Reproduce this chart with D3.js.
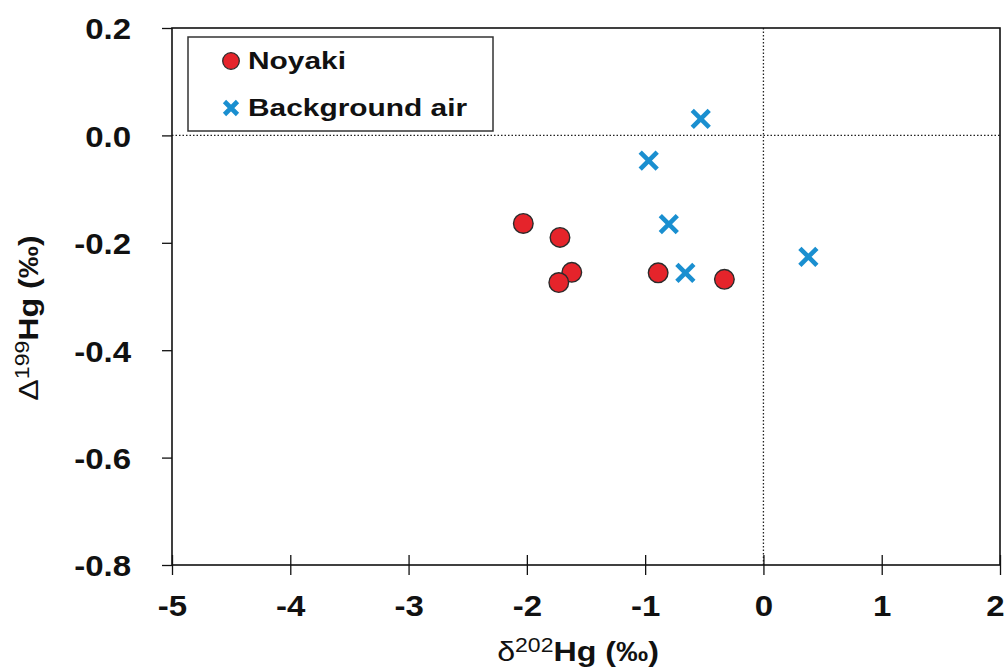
<!DOCTYPE html>
<html>
<head>
<meta charset="utf-8">
<script src="https://cdn.jsdelivr.net/npm/d3@7/dist/d3.min.js"></script>
<style>
  html, body { margin: 0; padding: 0; background: #fff; }
  svg { display: block; }
  text { font-family: "Liberation Sans", Arial, Helvetica, sans-serif; fill: #111; }
</style>
</head>
<body>
<script>
// Mercury isotope signatures: δ202Hg vs Δ199Hg (‰)
const noyakiD202 = [-2.03, -1.72, -1.62, -1.73, -0.89, -0.33];
const noyakiD199 = [-0.164, -0.190, -0.255, -0.274, -0.256, -0.268];

const airD202 = [-0.53, -0.97, -0.80, -0.66, 0.38];
const airD199 = [0.031, -0.047, -0.165, -0.256, -0.226];

const xTicks = [-5, -4, -3, -2, -1, 0, 1, 2];
const xTickLabels = ["-5", "-4", "-3", "-2", "-1", "0", "1", "2"];
const yTicks = [0.2, 0.0, -0.2, -0.4, -0.6, -0.8];
const yTickLabels = ["0.2", "0.0", "-0.2", "-0.4", "-0.6", "-0.8"];

const seriesNames = ["Noyaki", "Background air"];

const W = 1005, H = 667;
const plot = { left: 172, right: 1000, top: 28, bottom: 565 };
const RED = "#e5242b", BLUE = "#1a8fd0";
const SX = 1.1; // horizontal stretch of the tick lettering

const svg = d3.select("body").append("svg").attr("width", W).attr("height", H);

const x = d3.scaleLinear().domain([-5, 2]).range([plot.left, plot.right]);
const y = d3.scaleLinear().domain([-0.8, 0.2]).range([plot.bottom, plot.top]);

// zero reference lines
svg.append("line")
  .attr("x1", plot.left).attr("x2", plot.right)
  .attr("y1", y(0)).attr("y2", y(0))
  .attr("stroke", "#222").attr("stroke-width", 1.3).attr("stroke-dasharray", "1.5,2");
svg.append("line")
  .attr("x1", x(0)).attr("x2", x(0))
  .attr("y1", plot.top).attr("y2", plot.bottom)
  .attr("stroke", "#222").attr("stroke-width", 1.3).attr("stroke-dasharray", "1.5,2");

// frame
svg.append("rect")
  .attr("x", plot.left).attr("y", plot.top)
  .attr("width", plot.right - plot.left).attr("height", plot.bottom - plot.top)
  .attr("fill", "none").attr("stroke", "#111").attr("stroke-width", 1.6);

// x axis (ticks crossing the bottom edge)
const xAxis = svg.append("g")
  .attr("transform", `translate(0,${plot.bottom})`)
  .call(d3.axisBottom(x).tickValues(xTicks).tickSizeInner(10).tickSizeOuter(0)
        .tickFormat((d, i) => xTickLabels[i]));
xAxis.select(".domain").remove();
xAxis.selectAll(".tick line").attr("y1", -10).attr("y2", 10)
  .attr("stroke", "#111").attr("stroke-width", 1.3);
xAxis.selectAll(".tick text")
  .attr("y", 0).attr("dy", 0)
  .attr("transform", (d, i) =>
    `translate(${i === xTicks.length - 1 ? -5 : 0},51) scale(${SX},1)`)
  .style("font-size", "30px").style("font-weight", "bold").attr("fill", "#111");

// y axis (ticks outside the left edge)
const yAxis = svg.append("g")
  .attr("transform", `translate(${plot.left},0)`)
  .call(d3.axisLeft(y).tickValues(yTicks).tickSizeInner(10).tickSizeOuter(0)
        .tickFormat((d, i) => yTickLabels[i]));
yAxis.select(".domain").remove();
yAxis.selectAll(".tick line").attr("stroke", "#111").attr("stroke-width", 1.3);
yAxis.selectAll(".tick text")
  .attr("x", 0).attr("dy", "0.36em")
  .attr("transform", `translate(-41,0) scale(${SX},1)`)
  .attr("text-anchor", "end")
  .style("font-size", "30px").style("font-weight", "bold").attr("fill", "#111");

// axis titles
const xt = svg.append("text")
  .attr("transform", `translate(${(plot.left + plot.right) / 2 - 8},661) scale(1.15,1)`)
  .attr("text-anchor", "middle").style("font-size", "28px");
xt.append("tspan").text("δ");
xt.append("tspan").attr("dy", -9).style("font-size", "20px").text("202");
xt.append("tspan").attr("dy", 9).style("font-weight", "bold").text("Hg (‰)");

const yt = svg.append("text")
  .attr("transform", `translate(38,318) rotate(-90) scale(1.15,1)`)
  .attr("text-anchor", "middle").style("font-size", "28px");
yt.append("tspan").text("Δ");
yt.append("tspan").attr("dy", -9).style("font-size", "20px").text("199");
yt.append("tspan").attr("dy", 9).style("font-weight", "bold").text("Hg (‰)");

// Noyaki samples
svg.append("g").selectAll("circle")
  .data(noyakiD202.map((v, i) => [v, noyakiD199[i]]))
  .join("circle")
  .attr("cx", d => x(d[0])).attr("cy", d => y(d[1]))
  .attr("r", 9.8)
  .attr("fill", RED).attr("stroke", "#2b2b2b").attr("stroke-width", 1.4);

// background air samples
const cross = (g, s) => g.append("path")
  .attr("d", `M${-s},${-s}L${s},${s}M${-s},${s}L${s},${-s}`)
  .attr("stroke", BLUE).attr("stroke-width", 4.6).attr("fill", "none");
svg.append("g").selectAll("g")
  .data(airD202.map((v, i) => [v, airD199[i]]))
  .join("g")
  .attr("transform", d => `translate(${x(d[0])},${y(d[1])})`)
  .each(function () { cross(d3.select(this), 8.5); });

// legend
const leg = svg.append("g");
leg.append("rect")
  .attr("x", 188).attr("y", 37).attr("width", 305).attr("height", 94)
  .attr("fill", "#fff").attr("stroke", "#333").attr("stroke-width", 1.5);
leg.append("circle").attr("cx", 231).attr("cy", 61).attr("r", 8.3)
  .attr("fill", RED).attr("stroke", "#2b2b2b").attr("stroke-width", 1.3);
const lc = leg.append("g").attr("transform", "translate(231,108)");
cross(lc, 6.5);
leg.selectAll("text.lbl")
  .data(seriesNames)
  .join("text").attr("class", "lbl")
  .attr("transform", (d, i) => `translate(248,${69 + i * 47}) scale(1.22,1)`)
  .style("font-size", "24.5px").style("font-weight", "bold")
  .text(d => d);
</script>
</body>
</html>
